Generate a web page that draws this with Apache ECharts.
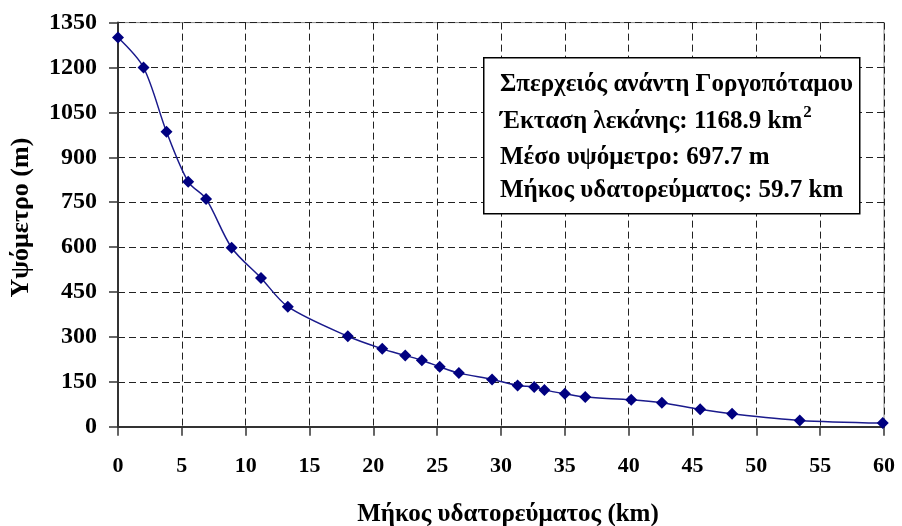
<!DOCTYPE html>
<html>
<head>
<meta charset="utf-8">
<script src="https://cdn.jsdelivr.net/npm/echarts@6/dist/echarts.min.js"></script>
<style>
html,body{margin:0;padding:0;background:#fff;}
#chart{width:902px;height:526px;}
</style>
</head>
<body>
<div id="chart"></div>
<script>
// Data
var distanceKm = [0, 2, 3.8, 5.5, 6.9, 8.9, 11.2, 13.3, 18.0, 20.7, 22.5, 23.8, 25.2, 26.7, 29.3, 31.3, 32.6, 33.4, 35.0, 36.6, 40.2, 42.6, 45.6, 48.1, 53.4, 59.9];
var elevationM = [1300, 1200, 985, 818, 761, 598, 497, 401, 302, 260, 238, 222, 200, 179, 158, 138, 133, 123, 110, 99, 90, 80, 58, 43, 21, 12];
var yTicks = {min: 0, max: 1350, interval: 150};
var xTicks = {min: 0, max: 60, interval: 5};
var boxLines = [
  'Σπερχειός ανάντη Γοργοπόταμου',
  'Έκταση λεκάνης: 1168.9 km',
  'Μέσο υψόμετρο: 697.7 m',
  'Μήκος υδατορεύματος: 59.7 km'
];
var xName = 'Μήκος υδατορεύματος (km)';
var yName = 'Υψόμετρο (m)';

var points = distanceKm.map(function (d, i) { return [d, elevationM[i]]; });
var serif = '"Liberation Serif", "DejaVu Serif", serif';

var chart = echarts.init(document.getElementById('chart'), null, {renderer: 'canvas'});
var lineY = [86, 123, 159, 192];
var ctx = document.createElement('canvas').getContext('2d');
ctx.font = 'bold 25px ' + serif;
var line2w = ctx.measureText(boxLines[1]).width;

var option = {
  animation: false,
  backgroundColor: '#fff',
  grid: {left: 118, right: 18, top: 22.6, bottom: 99.3, show: true, borderColor: '#888', borderWidth: 1,
         outerBoundsMode: 'none', containLabel: false},
  xAxis: {
    type: 'value', min: xTicks.min, max: xTicks.max, interval: xTicks.interval,
    name: xName, nameLocation: 'middle', nameGap: 75,
    nameTextStyle: {fontFamily: serif, fontWeight: 'bold', fontSize: 25, color: '#000', padding: [0, 0, 0, 14]},
    axisLine: {show: true, onZero: false, lineStyle: {color: '#333', width: 2}},
    axisTick: {show: true, inside: false, length: 9, lineStyle: {color: '#333', width: 1.5}},
    axisLabel: {margin: 29, fontFamily: serif, fontWeight: 'bold', fontSize: 22, color: '#000',
      formatter: function (v) { return String(v); }},
    splitLine: {show: true, lineStyle: {color: '#222', width: 1, type: [7, 4]}}
  },
  yAxis: {
    type: 'value', min: yTicks.min, max: yTicks.max, interval: yTicks.interval,
    name: yName, nameLocation: 'middle', nameGap: 84, nameRotate: 90,
    nameTextStyle: {fontFamily: serif, fontWeight: 'bold', fontSize: 26, color: '#000', padding: [0, 0, 0, 14]},
    axisLine: {show: true, onZero: false, lineStyle: {color: '#333', width: 2}},
    axisTick: {show: true, inside: false, length: 9, lineStyle: {color: '#333', width: 1.5}},
    axisLabel: {margin: 21, fontFamily: serif, fontWeight: 'bold', fontSize: 24, color: '#000',
      formatter: function (v) { return String(v); }},
    splitLine: {show: true, lineStyle: {color: '#222', width: 1, type: [7, 4]}}
  },
  series: [{
    type: 'line',
    data: points,
    smooth: 0.3,
    symbol: 'diamond',
    symbolSize: 12,
    lineStyle: {color: '#1a1a8c', width: 1.5},
    itemStyle: {color: '#000080'}
  }],
  graphic: [
    {type: 'rect', left: 483, top: 57, shape: {width: 376, height: 156},
     style: {fill: '#fff', stroke: '#000', lineWidth: 1.5}, z: 100},
    {type: 'text', left: 500, top: lineY[0] - 14, z: 101,
     style: {text: boxLines[0], font: 'bold 25px ' + serif, fill: '#000'}},
    {type: 'text', left: 500, top: lineY[1] - 14, z: 101,
     style: {text: boxLines[1], font: 'bold 25px ' + serif, fill: '#000'}},
    {type: 'text', left: 500 + line2w + 1, top: 104, z: 101,
     style: {text: '2', font: 'bold 17px ' + serif, fill: '#000'}},
    {type: 'text', left: 500, top: lineY[2] - 14, z: 101,
     style: {text: boxLines[2], font: 'bold 25px ' + serif, fill: '#000'}},
    {type: 'text', left: 500, top: lineY[3] - 14, z: 101,
     style: {text: boxLines[3], font: 'bold 25px ' + serif, fill: '#000'}}
  ]
};
chart.setOption(option);
</script>
</body>
</html>
